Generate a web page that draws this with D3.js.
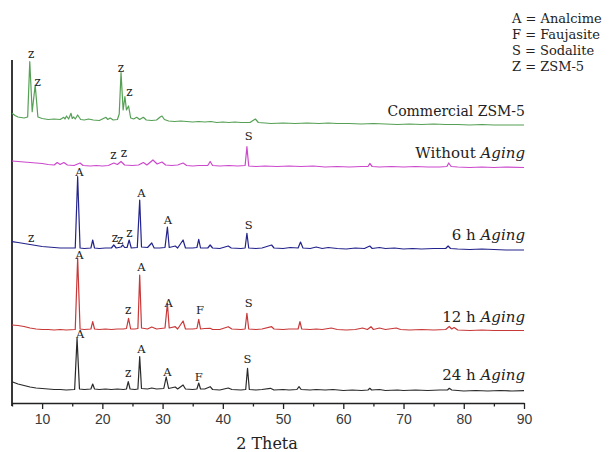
<!DOCTYPE html>
<html>
<head>
<meta charset="utf-8">
<script src="https://cdn.jsdelivr.net/npm/d3@7"></script>
<style>
  body { margin: 0; background: #fff; }
  svg { display: block; }
  .tick text { font-family: "Liberation Sans", Arial, sans-serif; font-size: 14px; fill: #3a3a3a; }
  .serif { font-family: "DejaVu Serif", "Liberation Serif", serif; fill: #222; }
</style>
</head>
<body>
<div id="xrd"></div>
<script>
// series names, colours, baseline offsets (a.u.) and label heights (a.u.)
var seriesNames = ["24 h", "12 h", "6 h", "Without", "Commercial ZSM-5"];
var seriesColors = ["#2a2a2a", "#c83838", "#23238c", "#cc48cc", "#55a055"];
var seriesOffsets = [12, 72, 153, 236, 281];
var labelLevels = [23, 81.5, 163, 244.7, 287];

// [2theta, intensity above own baseline]
var aging24 = [[5, 9.3], [6, 7], [7, 5.5], [8, 4], [9, 3], [10, 2.5], [11, 2], [12, 1.5], [13, 1.5], [14, 1], [15.4, 1.5], [15.8, 52.7], [16.2, 2], [17, 1.5], [18.1, 2], [18.4, 7], [18.7, 2], [19.5, 1.5], [20.5, 2], [21.5, 1.5], [22.5, 2], [23.5, 1.5], [24.0, 2], [24.3, 9.3], [24.6, 2], [25.4, 1.5], [25.9, 2], [26.2, 34.3], [26.5, 2.5], [27.5, 2], [28.2, 3], [29, 2], [30.2, 2.5], [30.6, 14], [31.0, 2.5], [32.1, 4], [32.5, 2], [33.4, 6], [33.8, 2], [35, 1.5], [35.7, 2], [36.0, 8], [36.3, 2], [37.0, 2], [37.9, 4.3], [38.3, 1.5], [39.5, 1], [40.9, 3], [41.5, 1.5], [43, 1], [43.8, 1.5], [44.1, 22.7], [44.4, 1.5], [45.5, 1], [46.5, 1.5], [47.9, 2.7], [48.5, 1], [50, 1.5], [51, 1], [52.3, 1.5], [52.65, 4.3], [53.0, 1.5], [54.5, 1], [55.5, 1.5], [57, 1], [58.3, 1.5], [60, 0.5], [61.5, 1], [63, 0.5], [64.1, 1], [64.4, 2.7], [64.7, 1], [66, 1.5], [67, 0.5], [69, 1], [70, 0.5], [72, 1], [74, 0.5], [76, 1], [77.3, 1], [77.6, 2.7], [78, 1], [79, 0.5], [80, 0], [82, 0.5], [84, 0], [86, 0.5], [88, 0], [90, 0.3]];

var aging12 = [[5, 6], [6, 5.5], [7, 4.5], [8, 3], [9, 2], [10, 1.5], [11, 1.5], [12, 1], [13, 1.5], [14, 1], [15.5, 1.5], [15.9, 73], [16.3, 2], [17, 1.5], [18.1, 2], [18.4, 9.3], [18.7, 2], [19.5, 1.5], [20.5, 2], [21.5, 1.5], [22.5, 2], [23.5, 2], [24.0, 2.5], [24.35, 12.7], [24.7, 2], [25.4, 2], [25.9, 2.5], [26.2, 56], [26.5, 3], [27.5, 2], [28.2, 4], [29, 2], [30.4, 3], [30.8, 27.7], [31.1, 3], [32.1, 4.3], [32.5, 2], [33.4, 10], [33.8, 2], [35, 2], [35.7, 2.5], [36.0, 11.7], [36.3, 2], [37.0, 2.5], [37.9, 2.7], [38.3, 1.5], [39.5, 1.5], [40.9, 4.3], [41.5, 2], [43, 1.5], [43.7, 2], [44.0, 17.7], [44.3, 2], [45.5, 1.5], [46.5, 2], [48.1, 4.3], [48.5, 2], [50, 1.5], [51, 2], [52.5, 2], [52.8, 9.3], [53.1, 2], [54.5, 1.5], [55.5, 2], [56.5, 1.5], [58.0, 3], [59, 1.5], [60.5, 1], [62, 1.5], [63.2, 3], [64.0, 1.5], [64.6, 4.3], [65.0, 1.5], [66, 3], [67, 1.5], [68.8, 3], [69.5, 1.5], [71, 1], [73, 1.5], [75, 1], [77.0, 1.5], [77.6, 4.5], [78.0, 2], [78.4, 3.5], [79, 1], [81, 0.5], [83, 1], [85, 0.5], [87, 0.5], [90, 0.5]];

var aging6 = [[5, 8.3], [6, 7.5], [7, 6.5], [8, 5.5], [9, 4.5], [10, 3.5], [11, 3], [12, 2.5], [13, 2], [14, 2], [15.5, 2], [15.9, 73.3], [16.3, 2], [17, 1.5], [18.1, 2], [18.4, 10], [18.7, 2], [19.5, 1.5], [20.5, 2], [21.5, 2], [21.9, 5], [22.3, 2], [23.1, 3], [23.4, 5], [23.7, 2.5], [24.1, 2.5], [24.45, 10], [24.8, 2], [25.8, 2.5], [26.2, 50], [26.5, 3], [27.5, 2.5], [28.2, 7], [28.6, 2], [29.5, 2], [30.4, 2.5], [30.8, 23], [31.1, 2.5], [32.1, 4], [32.5, 2], [33.4, 10], [33.8, 2], [35, 2], [35.7, 2.5], [36.0, 10.7], [36.3, 2], [37.5, 2], [37.9, 5], [38.3, 2], [39.5, 1.5], [40.9, 4], [41.4, 2], [43, 1.5], [43.7, 2], [44.0, 16.7], [44.3, 2], [45.5, 1.5], [46.5, 2], [48.1, 5], [48.5, 2], [50, 1.5], [51.2, 2.5], [52.5, 2], [52.9, 8], [53.3, 2], [54.5, 1.5], [55.5, 3], [56.5, 1.5], [57.5, 2.5], [59, 1.5], [60.5, 1], [62, 2], [63.5, 1.5], [64.4, 4], [64.8, 1.5], [66, 2.5], [67, 1.5], [68.5, 2], [70, 1], [71.5, 1.5], [73, 1], [75, 1.5], [77.0, 1.5], [77.4, 4], [77.8, 1.5], [79, 1], [81, 0.5], [83, 1], [85, 0.5], [87, 0], [90, 0]];

var withoutAging = [[5, 6], [6, 5.5], [7, 5], [8, 4.5], [9, 4], [10, 3.5], [11, 2.5], [12, 2], [12.5, 4.5], [13.0, 2.5], [13.6, 4.5], [14.2, 2], [15.3, 1.5], [16.3, 4], [16.8, 1.5], [18, 1], [19, 1.5], [20, 1], [21.0, 1.5], [21.9, 4], [22.5, 2.5], [23.1, 5.5], [23.7, 2], [25, 1.5], [26.0, 2], [26.8, 4.5], [27.4, 2], [28.4, 7], [29.1, 3], [29.9, 5], [30.5, 2], [31.5, 1.5], [32.5, 2], [33.4, 4], [34, 1.5], [35, 1], [36, 1.5], [37.5, 1.5], [37.9, 5.5], [38.3, 1.5], [39.5, 1], [41, 1.5], [42.5, 1], [43.7, 1.5], [44.0, 20.3], [44.3, 1], [45.5, 0.5], [47, 1], [49, 0.5], [51, 1], [53, 0.5], [55, 1], [57, 0], [59, 0.5], [61, 0], [63, 0.5], [64.1, 0.5], [64.4, 3.5], [64.8, 0.5], [66, 0], [68, 0.5], [70, 0], [72, 0.5], [74, 0], [76, 0], [77.2, 0.5], [77.5, 4], [77.9, 0.5], [79, 0], [81, -0.5], [83, 0], [85, -0.5], [87, 0], [90, -0.5]];

var commercial = [[5, 8.7], [5.5, 6.5], [6, 5], [6.5, 4.5], [7, 4], [7.6, 5], [7.95, 60.3], [8.35, 10.3], [8.85, 37], [9.3, 5], [10, 3.5], [11, 2.5], [12, 3], [13, 2.5], [13.6, 4.7], [13.8, 3], [14.05, 6], [14.4, 3], [14.8, 8.7], [15.0, 3.5], [15.25, 5], [15.5, 3], [15.9, 7], [16.4, 2.5], [17.0, 2], [17.7, 3], [18.5, 2], [19.5, 1.5], [20.6, 4.7], [20.9, 2.5], [21.3, 4], [21.8, 2], [22.5, 2.5], [22.8, 8], [23.1, 49.3], [23.45, 12], [23.75, 25.3], [24.0, 12], [24.35, 16], [24.7, 4], [25.2, 3], [25.7, 4.7], [26.2, 2.5], [26.8, 4.7], [27.3, 2], [28.2, 1.5], [29.0, 2], [29.6, 5], [29.9, 6], [30.3, 2.5], [31, 1], [32, 0.5], [33, 1], [34, 0.5], [35, 0], [36, 0.5], [37, 0], [38, 0.5], [39, -0.5], [40, 0], [41, -0.5], [42, 0], [43, -0.5], [44.5, -0.5], [45.4, 3], [45.9, -0.5], [47, -1], [48, -1.5], [50, -1], [52, -1.5], [54, -1], [56, -1.5], [57.5, -1], [59, -1.5], [61, -1.5], [63, -2], [65, -1.5], [67, -2], [69, -2.5], [71, -2], [73, -2.5], [75, -2], [77, -2.5], [79, -2.5], [81, -3], [83, -2.5], [85, -3], [87, -3], [90, -3]];

var seriesData = [aging24, aging12, aging6, withoutAging, commercial];

// phase marks: [2theta, absolute a.u., letter]
var peakMarks = [
  [8.18, 345, "z"], [9.27, 317, "z"], [23.08, 331, "z"], [24.5, 307, "z"],
  [21.85, 244, "z"], [23.6, 246, "z"], [44.3, 263, "S"],
  [8.2, 161, "z"], [16.2, 227, "A"], [22.1, 161, "z"], [22.95, 159, "z"], [24.5, 166, "z"], [26.5, 206, "A"], [30.9, 179, "A"], [44.3, 174, "S"],
  [16.2, 144, "A"], [24.3, 89, "z"], [26.5, 132, "A"], [31.0, 96, "A"], [36.2, 89, "F"], [44.3, 96, "S"],
  [16.3, 65, "A"], [24.3, 26, "z"], [26.5, 50, "A"], [30.8, 27, "A"], [36.0, 22, "F"], [44.1, 40, "S"]
];

var legendItems = ["A = Analcime", "F = Faujasite", "S = Sodalite", "Z = ZSM-5"];
var xTicks = [10, 20, 30, 40, 50, 60, 70, 80, 90];
var xMinorTicks = [5, 15, 25, 35, 45, 55, 65, 75, 85];

var margin = { top: 60, right: 85, bottom: 49, left: 12 },
  width = 609 - margin.left - margin.right,
  height = 452 - margin.top - margin.bottom;

var root = d3
  .select("#xrd")
  .append("svg")
  .attr("width", 609)
  .attr("height", 452);

var svg = root
  .append("g")
  .attr("transform", "translate(" + margin.left + "," + margin.top + ")");

var x = d3.scaleLinear().domain([5, 90]).range([0, width]);
var y = d3.scaleLinear().domain([0, height]).range([height, 0]);

// minor ticks
svg
  .append("g")
  .attr("transform", "translate(0," + height + ")")
  .call(d3.axisBottom(x).tickValues(xMinorTicks).tickSize(3.5).tickFormat(""))
  .call(function (g) {
    g.select(".domain").remove();
  })
  .selectAll("line")
  .attr("stroke", "#222")
  .attr("stroke-width", 1.3);

// major ticks + labels
var xAxis = svg
  .append("g")
  .attr("transform", "translate(0," + height + ")")
  .call(d3.axisBottom(x).tickValues(xTicks).tickSize(6).tickPadding(5).tickSizeOuter(0));
xAxis.select(".domain").attr("stroke", "#222").attr("stroke-width", 1.6);
xAxis.selectAll(".tick line").attr("stroke", "#222").attr("stroke-width", 1.3);

// left axis line
svg
  .append("line")
  .attr("x1", 0)
  .attr("x2", 0)
  .attr("y1", 0)
  .attr("y2", height + 3)
  .attr("stroke", "#222")
  .attr("stroke-width", 1.8);

// traces
var line = d3
  .line()
  .x(function (d) {
    return x(d[0]);
  })
  .y(function (d) {
    return y(d[1]);
  });

seriesData.forEach(function (data, i) {
  svg
    .append("path")
    .datum(
      data.map(function (d) {
        return [d[0], d[1] + seriesOffsets[i]];
      })
    )
    .attr("fill", "none")
    .attr("stroke", seriesColors[i])
    .attr("stroke-width", 1.2)
    .attr("stroke-linejoin", "round")
    .attr("d", line);
});

// series labels
seriesNames.forEach(function (name, i) {
  var t = svg
    .append("text")
    .attr("class", "serif")
    .attr("x", x(90) + 1)
    .attr("y", y(labelLevels[i]))
    .attr("text-anchor", "end");
  if (name === "Commercial ZSM-5") {
    t.style("font-size", "14px").text(name);
  } else {
    t.style("font-size", "15px");
    t.append("tspan").text(name + " ");
    t.append("tspan").style("font-style", "italic").text("Aging");
  }
});

// phase letters
svg
  .selectAll(".mark")
  .data(peakMarks)
  .enter()
  .append("text")
  .attr("class", "serif mark")
  .attr("x", function (d) {
    return x(d[0]);
  })
  .attr("y", function (d) {
    return y(d[1]);
  })
  .attr("text-anchor", "middle")
  .style("font-size", function (d) {
    return d[2] === "z" ? "12px" : "11.5px";
  })
  .text(function (d) {
    return d[2];
  });

// legend
root
  .selectAll(".legend")
  .data(legendItems)
  .enter()
  .append("text")
  .attr("class", "serif legend")
  .attr("x", 512)
  .attr("y", function (d, i) {
    return 23 + i * 16;
  })
  .style("font-size", "13px")
  .text(function (d) {
    return d;
  });

// x title
root
  .append("text")
  .attr("class", "serif")
  .attr("x", 267)
  .attr("y", 449)
  .attr("text-anchor", "middle")
  .style("font-size", "16px")
  .text("2 Theta");
</script>
</body>
</html>
